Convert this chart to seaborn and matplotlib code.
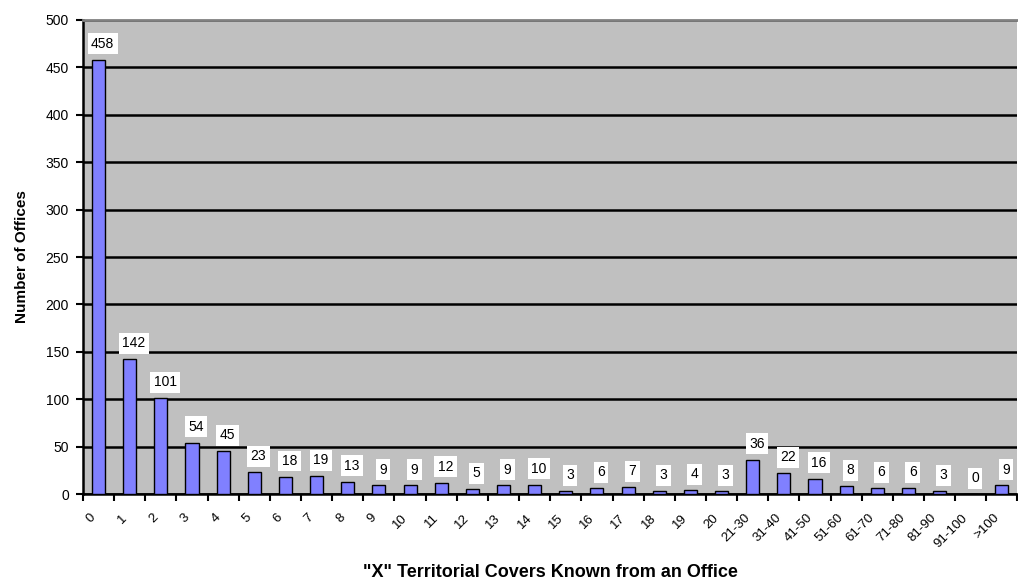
import matplotlib
matplotlib.use("Agg")
import matplotlib.pyplot as plt
import matplotlib.transforms as mtransforms
import seaborn as sns
import pandas as pd
import numpy as np

categories = [str(i) for i in range(21)] + [
    "21-30", "31-40", "41-50", "51-60", "61-70", "71-80", "81-90", "91-100", ">100"
]
offices = [458, 142, 101, 54, 45, 23, 18, 19, 13, 9, 9, 12, 5, 9, 10, 3, 6, 7,
           3, 4, 3, 36, 22, 16, 8, 6, 6, 3, 0, 9]

df = pd.DataFrame({"covers": categories, "offices": offices})

sns.set_theme(style="white")
plt.rcParams["font.family"] = ["Liberation Sans", "DejaVu Sans"]
plt.rcParams["text.color"] = "black"
plt.rcParams["axes.labelcolor"] = "black"
plt.rcParams["xtick.color"] = "black"
plt.rcParams["ytick.color"] = "black"

fig = plt.figure(figsize=(10.18, 5.81), dpi=100)
ax = fig.add_axes([0.0815, 0.1497, 0.918, 0.8159])
ax.set_facecolor("#C0C0C0")

sns.barplot(data=df, x="covers", y="offices", order=categories, color="#8080FF",
            saturation=1, width=0.42, edgecolor="black", linewidth=1, ax=ax, zorder=3)

n = len(categories)
ax.set_xlim(-0.5, n - 0.5)
ax.set_ylim(0, 500)
ax.set_yticks(np.arange(0, 501, 50))
ax.yaxis.grid(True, color="black", linewidth=1.8, zorder=1)
ax.set_axisbelow(True)

# value labels in white boxes above each bar
for i, v in enumerate(offices):
    ax.annotate(str(v), (i, v), xytext=(3, 11.5), textcoords="offset points",
                ha="center", va="center", fontsize=10, color="black", zorder=5,
                bbox=dict(boxstyle="square,pad=0.25", fc="white", ec="none"))

# tick marks between categories, labels at category centres
ax.set_xticks(np.arange(n))
ax.set_xticklabels(categories, rotation=45, ha="right", rotation_mode="anchor",
                   fontsize=9.5)
ax.set_xticks(np.arange(-0.5, n, 1), minor=True)
ax.tick_params(axis="x", which="major", length=0, pad=10)
ax.tick_params(axis="x", which="minor", length=5, width=1.5, color="black",
               direction="out", bottom=True)
ax.tick_params(axis="y", length=5, width=1.5, color="black", direction="out",
               left=True, labelsize=10, pad=5)

# nudge the slanted category labels down and to the left
shift = mtransforms.ScaledTranslation(-9 / 100, -4 / 100, fig.dpi_scale_trans)
for lbl in ax.get_xticklabels():
    lbl.set_transform(lbl.get_transform() + shift)

for side in ("left", "bottom"):
    ax.spines[side].set_color("black")
    ax.spines[side].set_linewidth(1.8)
ax.spines["top"].set_color("#808080")
ax.spines["top"].set_linewidth(2)
ax.spines["right"].set_visible(False)

ax.set_xlabel('"X" Territorial Covers Known from an Office', fontsize=13,
              fontweight="bold")
ax.xaxis.set_label_coords(0.5, -0.147)
ax.set_ylabel("Number of Offices", fontsize=11, fontweight="bold")
ax.yaxis.set_label_coords(-0.058, 0.5)

fig.savefig("out.png", dpi=100)
